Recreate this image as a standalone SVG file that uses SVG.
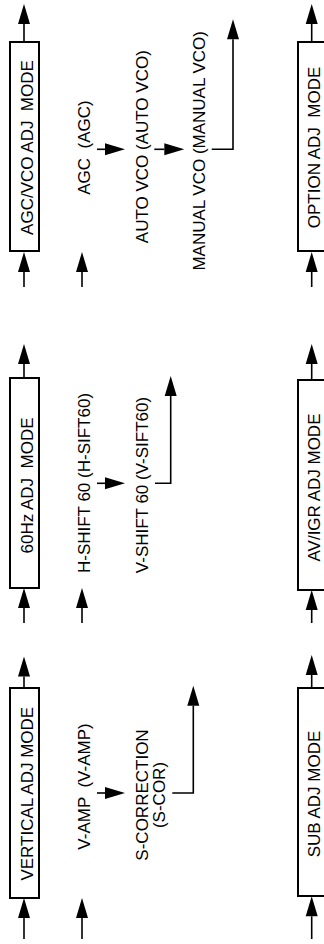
<svg xmlns="http://www.w3.org/2000/svg" width="324" height="944" viewBox="0 0 324 944">
<style>
.box{fill:#fff;stroke:#000;stroke-width:2}
.ln{fill:none;stroke:#000;stroke-width:1.6;marker-end:url(#ah)}
text{font-family:"Liberation Sans",Arial,sans-serif;font-size:17px;fill:#000;text-anchor:middle}
</style>
<defs>
<marker id="ah" markerUnits="userSpaceOnUse" markerWidth="21" markerHeight="12" refX="0" refY="6" orient="auto" overflow="visible">
<path d="M0,0 L20,6 L0,12 Z" fill="#000"/>
</marker>
</defs>
<rect width="324" height="944" fill="#fff"/>
<g id="connectors">
<!-- row 1 -->
<path class="ln" d="M24,287 V272"/>
<path class="ln" d="M24,42 V24"/>
<path class="ln" d="M82,287 V272"/>
<path class="ln" d="M97,149.3 H105"/>
<path class="ln" d="M154.3,149.3 H164.3"/>
<path class="ln" d="M211.7,149.3 H233 V39.3"/>
<path class="ln" d="M311.7,42 V24"/>
<path class="ln" d="M311.7,287 V272"/>
<!-- row 2 -->
<path class="ln" d="M24,378 V364"/>
<path class="ln" d="M24,623 V608"/>
<path class="ln" d="M82,623 V608"/>
<path class="ln" d="M97,483.3 H105"/>
<path class="ln" d="M155,483.3 H170.7 V396"/>
<path class="ln" d="M311.7,380 V364"/>
<path class="ln" d="M311.7,623 V610"/>
<!-- row 3 -->
<path class="ln" d="M24,688 V676.5"/>
<path class="ln" d="M24,939 V918"/>
<path class="ln" d="M82,939 V918"/>
<path class="ln" d="M97,793 H105"/>
<path class="ln" d="M172.3,793 H193.3 V705.7"/>
<path class="ln" d="M311.7,688 V675"/>
<path class="ln" d="M311.7,939 V916.3"/>
</g>
<g id="agc-vco-mode"><rect class="box" x="10" y="42" width="29" height="209"/><text transform="translate(33,147.5) rotate(-90)" xml:space="preserve">AGC/VCO ADJ  MODE</text></g>
<g id="agc"><text transform="translate(89.5,147.5) rotate(-90)" xml:space="preserve">AGC  (AGC)</text></g>
<g id="auto-vco"><text transform="translate(147.5,146.7) rotate(-90)">AUTO VCO (AUTO VCO)</text></g>
<g id="manual-vco"><text transform="translate(205,150.8) rotate(-90)">MANUAL VCO (MANUAL VCO)</text></g>
<g id="option-mode"><rect class="box" x="298" y="42" width="29" height="209"/><text transform="translate(320,147.5) rotate(-90)" xml:space="preserve">OPTION ADJ  MODE</text></g>

<g id="hz60-mode"><rect class="box" x="10" y="378" width="29" height="210"/><text transform="translate(33,485.5) rotate(-90)" xml:space="preserve">60Hz ADJ  MODE</text></g>
<g id="h-shift"><text transform="translate(89.5,483) rotate(-90)">H-SHIFT 60 (H-SIFT60)</text></g>
<g id="v-shift"><text transform="translate(147.5,485) rotate(-90)">V-SHIFT 60 (V-SIFT60)</text></g>
<g id="av-igr-mode"><rect class="box" x="298" y="380" width="29" height="210"/><text transform="translate(320,487.5) rotate(-90)">AV/IGR ADJ MODE</text></g>

<g id="vertical-mode"><rect class="box" x="10" y="688" width="29" height="210"/><text transform="translate(33,793.7) rotate(-90)">VERTICAL ADJ MODE</text></g>
<g id="v-amp"><text transform="translate(89.5,786.5) rotate(-90)" xml:space="preserve">V-AMP  (V-AMP)</text></g>
<g id="s-correction"><text transform="translate(147.5,795) rotate(-90)">S-CORRECTION</text><text transform="translate(164.5,795) rotate(-90)">(S-COR)</text></g>
<g id="sub-mode"><rect class="box" x="298" y="688" width="29" height="208"/><text transform="translate(320,794) rotate(-90)">SUB ADJ MODE</text></g>
</svg>
